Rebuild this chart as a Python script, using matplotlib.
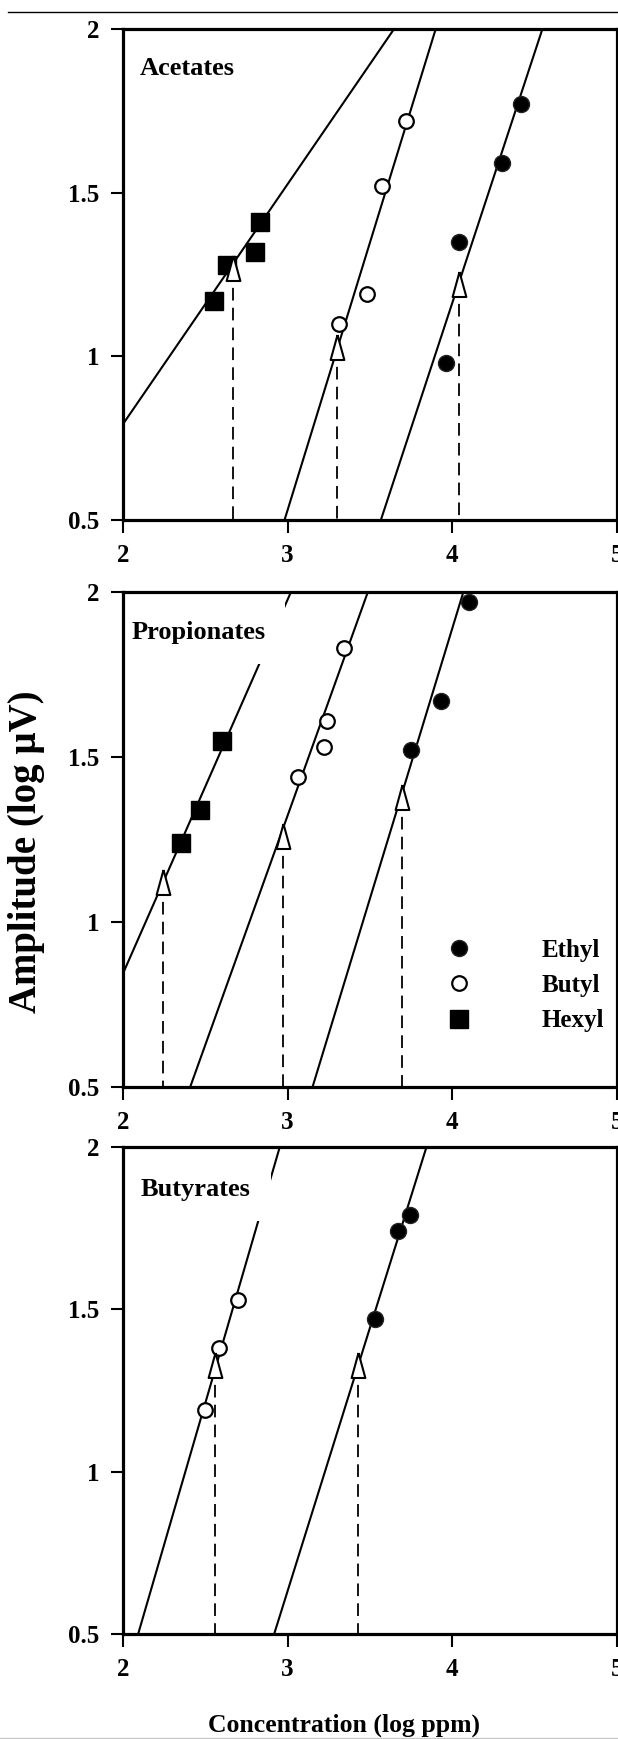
import matplotlib
matplotlib.use("Agg")
import matplotlib.pyplot as plt
from matplotlib.lines import Line2D

plt.rcParams['font.family'] = ['Liberation Serif', 'DejaVu Serif']
plt.rcParams['font.weight'] = 'bold'

# ---------------- data ----------------
x_ticks = [2, 3, 4, 5]
x_tick_labels = ['2', '3', '4', '5']
y_ticks = [0.5, 1, 1.5, 2]
y_tick_labels = ['0.5', '1', '1.5', '2']

panel_names = ['Acetates', 'Propionates', 'Butyrates']
legend_labels = ['Ethyl', 'Butyl', 'Hexyl']

# Acetates
ace_ethyl_x = [3.96, 4.04, 4.30, 4.42]
ace_ethyl_y = [0.98, 1.35, 1.59, 1.77]
ace_butyl_x = [3.31, 3.48, 3.57, 3.72]
ace_butyl_y = [1.10, 1.19, 1.52, 1.72]
ace_hexyl_x = [2.55, 2.63, 2.80, 2.83]
ace_hexyl_y = [1.17, 1.28, 1.32, 1.41]
ace_thresh_x = [2.67, 3.30, 4.04]
ace_thresh_y = [1.27, 1.03, 1.22]
ace_fit_ethyl = ([3.566, 4.547], [0.5, 2.0])
ace_fit_butyl = ([2.981, 3.899], [0.5, 2.0])
ace_fit_hexyl = ([2.0, 3.646], [0.793, 2.0])

# Propionates
pro_ethyl_x = [3.75, 3.93, 4.10]
pro_ethyl_y = [1.52, 1.67, 1.97]
pro_butyl_x = [3.06, 3.22, 3.24, 3.34]
pro_butyl_y = [1.44, 1.53, 1.61, 1.83]
pro_hexyl_x = [2.35, 2.47, 2.60]
pro_hexyl_y = [1.24, 1.34, 1.55]
pro_thresh_x = [2.245, 2.97, 3.695]
pro_thresh_y = [1.12, 1.26, 1.38]
pro_fit_ethyl = ([3.151, 4.067], [0.5, 2.0])
pro_fit_butyl = ([2.408, 3.487], [0.5, 2.0])
pro_fit_hexyl = ([2.0, 3.02], [0.844, 2.0])

# Butyrates
but_ethyl_x = [3.53, 3.67, 3.74]
but_ethyl_y = [1.47, 1.74, 1.79]
but_butyl_x = [2.50, 2.58, 2.70]
but_butyl_y = [1.19, 1.38, 1.53]
but_thresh_x = [2.56, 3.43]
but_thresh_y = [1.33, 1.33]
but_fit_ethyl = ([2.918, 3.843], [0.5, 2.0])
but_fit_butyl = ([2.092, 2.952], [0.5, 2.0])

panels = [
    dict(name=panel_names[0], ethyl=(ace_ethyl_x, ace_ethyl_y), butyl=(ace_butyl_x, ace_butyl_y),
         hexyl=(ace_hexyl_x, ace_hexyl_y), thresh=(ace_thresh_x, ace_thresh_y),
         fits=[ace_fit_ethyl, ace_fit_butyl, ace_fit_hexyl], label_pos=(2.10, 1.88)),
    dict(name=panel_names[1], ethyl=(pro_ethyl_x, pro_ethyl_y), butyl=(pro_butyl_x, pro_butyl_y),
         hexyl=(pro_hexyl_x, pro_hexyl_y), thresh=(pro_thresh_x, pro_thresh_y),
         fits=[pro_fit_ethyl, pro_fit_butyl, pro_fit_hexyl], label_pos=(2.05, 1.876)),
    dict(name=panel_names[2], ethyl=(but_ethyl_x, but_ethyl_y), butyl=(but_butyl_x, but_butyl_y),
         hexyl=None, thresh=(but_thresh_x, but_thresh_y),
         fits=[but_fit_ethyl, but_fit_butyl], label_pos=(2.11, 1.868)),
]

# ---------------- figure ----------------
W, H = 618, 1739
fig = plt.figure(figsize=(W / 100, H / 100), dpi=100)

# axes boxes in pixels: (left, right, top, bottom)
boxes = [(123, 617, 29, 520), (123, 617, 592, 1087), (123, 617, 1147, 1634)]

tri = [(0, 1), (-0.55, -1), (0.55, -1), (0, 1)]

for i, (p, (l, r, t, b)) in enumerate(zip(panels, boxes)):
    ax = fig.add_axes([l / W, 1 - b / H, (r - l) / W, (b - t) / H])
    ax.set_xlim(2, 5)
    ax.set_ylim(0.5, 2)
    for fx, fy in p['fits']:
        ax.plot(fx, fy, color='black', lw=1.5, zorder=2, solid_capstyle='butt')
    tx, ty = p['thresh']
    ax.vlines(tx, ty, [0.5] * len(tx), colors='black', linestyles=(0, (7, 4)), lw=1.3, zorder=2)
    ax.text(p['label_pos'][0], p['label_pos'][1], p['name'], fontsize=19, fontweight='bold',
            ha='left', va='center', zorder=2.2,
            bbox=dict(boxstyle='square,pad=0.75', fc='white', ec='none'))
    ex, ey = p['ethyl']
    ax.plot(ex, ey, 'o', ms=11.5, mfc='black', mec='#222222', ls='none', zorder=3)
    bx, by = p['butyl']
    ax.plot(bx, by, 'o', ms=10.5, mfc='white', mec='black', mew=1.6, ls='none', zorder=3)
    if p['hexyl'] is not None:
        hx, hy = p['hexyl']
        ax.plot(hx, hy, 's', ms=12.5, mfc='black', mec='black', ls='none', zorder=3)
    ax.plot(tx, ty, marker=tri, ms=18, mfc='white', mec='black', mew=1.5, ls='none', zorder=3.5)

    ax.set_xticks(x_ticks)
    ax.set_xticklabels(x_tick_labels)
    ax.set_yticks(y_ticks)
    ax.set_yticklabels(y_tick_labels)
    ax.tick_params(direction='out', length=9, width=1.5, labelsize=18, pad=8,
                   top=False, right=False)
    for lab in ax.get_xticklabels() + ax.get_yticklabels():
        lab.set_fontweight('bold')
    for s in ax.spines.values():
        s.set_linewidth(2.3)
    ax.set_facecolor('white')

    if i == 1:
        handles = [
            Line2D([], [], marker='o', ms=11.5, mfc='black', mec='#222222', ls='none'),
            Line2D([], [], marker='o', ms=10.5, mfc='white', mec='black', mew=1.6, ls='none'),
            Line2D([], [], marker='s', ms=12.5, mfc='black', mec='black', ls='none'),
        ]
        ax.legend(handles, legend_labels, loc='upper left', bbox_to_anchor=(3.965, 0.95),
                  bbox_transform=ax.transData, frameon=False,
                  handlelength=1.0, handletextpad=2.8, labelspacing=0.5,
                  borderpad=0, borderaxespad=0, prop=dict(weight='bold', size=18))

fig.text(344 / W, 7 / H, 'Concentration (log ppm)', fontsize=18.5, fontweight='bold',
         ha='center', va='baseline')
fig.text(27 / W, 1 - 852 / H, 'Amplitude (log \u00b5V)', fontsize=28, fontweight='bold',
         ha='center', va='center', rotation=90)

fig.add_artist(Line2D([0.013, 1], [1 - 12 / H, 1 - 12 / H], color='black', lw=1))
fig.add_artist(Line2D([0, 1], [0.6 / H, 0.6 / H], color='#c8c8c8', lw=1))

fig.savefig('out.png', dpi=100)
